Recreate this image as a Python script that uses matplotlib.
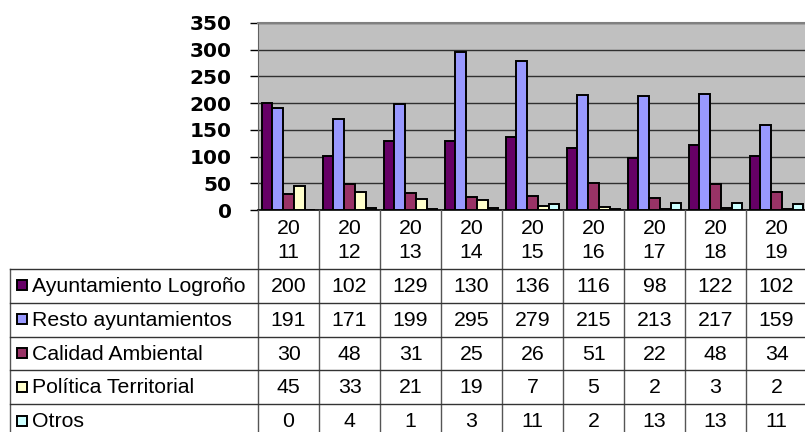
import matplotlib
matplotlib.use("Agg")
import matplotlib.pyplot as plt
import numpy as np

# Data
years = ["2011", "2012", "2013", "2014", "2015", "2016", "2017", "2018", "2019"]
series_names = ["Ayuntamiento Logroño", "Resto ayuntamientos", "Calidad Ambiental",
                "Política Territorial", "Otros"]
ayuntamiento_logrono = [200, 102, 129, 130, 136, 116, 98, 122, 102]
resto_ayuntamientos = [191, 171, 199, 295, 279, 215, 213, 217, 159]
calidad_ambiental = [30, 48, 31, 25, 26, 51, 22, 48, 34]
politica_territorial = [45, 33, 21, 19, 7, 5, 2, 3, 2]
otros = [0, 4, 1, 3, 11, 2, 13, 13, 11]
series_values = [ayuntamiento_logrono, resto_ayuntamientos, calidad_ambiental,
                 politica_territorial, otros]
colors = ["#660066", "#9999FF", "#993366", "#FFFFCC", "#CCFFFF"]
yticks = [0, 50, 100, 150, 200, 250, 300, 350]

W, H = 805, 432
fig = plt.figure(figsize=(W / 100, H / 100), dpi=100)

# Plot area in pixels
left_px, top_px, bottom_px = 258, 23, 210
col_w = 61
right_px = left_px + col_w * len(years)

ax = fig.add_axes([left_px / W, 1 - bottom_px / H, (right_px - left_px) / W, (bottom_px - top_px) / H])
ax.set_facecolor("#C0C0C0")

n = len(series_values)
bar_w = 10.7 / col_w
x = np.arange(len(years)) + 0.5
for i, (vals, c) in enumerate(zip(series_values, colors)):
    ax.bar(x + (i - (n - 1) / 2) * bar_w, vals, width=bar_w, color=c,
           edgecolor="black", linewidth=1.4, zorder=3)

ax.set_xlim(0, len(years))
ax.set_ylim(0, 350)
ax.set_yticks(yticks)
ax.set_xticks([])
ax.yaxis.grid(True, color="#303030", linewidth=1.0, zorder=1)
ax.tick_params(axis="y", length=6, width=1, pad=13, labelsize=14.5)
for lab in ax.get_yticklabels():
    lab.set_fontweight("bold")
    lab.set_fontfamily("DejaVu Sans")
ax.spines["right"].set_visible(False)
ax.spines["top"].set_color("#808080")
ax.spines["top"].set_linewidth(1.5)
ax.spines["left"].set_color("#606060")
ax.spines["bottom"].set_color("black")
ax.spines["bottom"].set_linewidth(1.2)

# Data table drawn in pixel coordinates
tab = fig.add_axes([0, 0, 1, 1])
tab.set_xlim(0, W)
tab.set_ylim(H, 0)
tab.axis("off")
tab.patch.set_alpha(0)

row_top = 269
row_h = 33.8
table_left = 10
line_c = "#555555"
font = "Liberation Sans"
fs = 15.3

# vertical lines
for j in range(len(years) + 1):
    xx = left_px + j * col_w
    tab.plot([xx, xx], [bottom_px, H + 10], color=line_c, lw=1.0)
tab.plot([table_left, table_left], [row_top, H + 10], color=line_c, lw=1.0)
# horizontal lines
for r in range(len(series_values) + 1):
    yy = row_top + r * row_h
    tab.plot([table_left, right_px], [yy, yy], color="#333333", lw=1.0)

# year header
for j, yr in enumerate(years):
    cx = left_px + (j + 0.5) * col_w
    tab.text(cx, 228, yr[:2], ha="center", va="center", fontsize=fs, family=font)
    tab.text(cx, 252, yr[2:], ha="center", va="center", fontsize=fs, family=font)

# rows
for r, (name, vals, c) in enumerate(zip(series_names, series_values, colors)):
    cy = row_top + (r + 0.5) * row_h
    tab.add_patch(plt.Rectangle((17, cy - 5.5), 10, 10, facecolor=c, edgecolor="black", lw=1.4))
    tab.text(32, cy + 0.5, name, ha="left", va="center", fontsize=fs, family=font)
    for j, v in enumerate(vals):
        cx = left_px + (j + 0.5) * col_w
        tab.text(cx, cy + 0.5, str(v), ha="center", va="center", fontsize=fs, family=font)

fig.savefig("out.png", dpi=100)
